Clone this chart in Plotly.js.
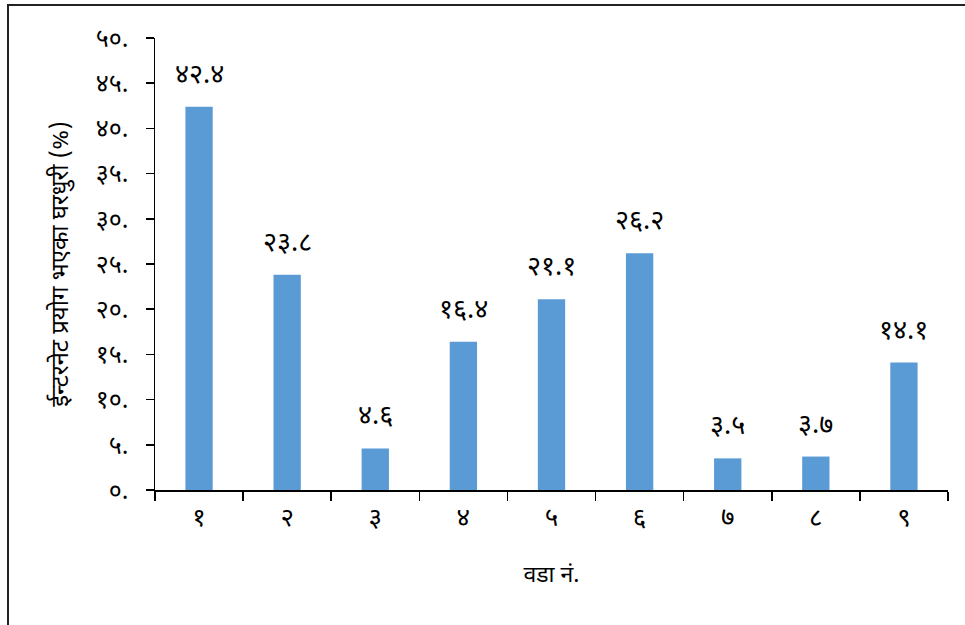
<!DOCTYPE html>
<html>
<head>
<meta charset="utf-8">
<script src="https://cdn.plot.ly/plotly-3.0.1.min.js"></script>
<style>
  html, body { margin: 0; padding: 0; background: #fff; }
  #wrap { position: relative; width: 965px; height: 625px; overflow: hidden; }
  #frame { position: absolute; left: 7px; top: 4px; width: 970px; height: 640px;
           border-top: 2px solid #222; border-left: 2px solid #222; pointer-events: none; z-index: 5; }
  #chart { position: absolute; left: 0; top: 0; width: 965px; height: 625px; }
</style>
</head>
<body>
<div id="wrap">
  <div id="chart"></div>
  <div id="frame"></div>
</div>
<script>
// Data
var wards = ["१", "२", "३", "४", "५", "६", "७", "८", "९"];
var values = [42.4, 23.8, 4.6, 16.4, 21.1, 26.2, 3.5, 3.7, 14.1];
var yTickValues = [0, 5, 10, 15, 20, 25, 30, 35, 40, 45, 50];
var xTitle = "वडा नं.";
var yTitle = "ईन्टरनेट प्रयोग भएका घरधुरी (%)";

var digits = ["०", "१", "२", "३", "४", "५", "६", "७", "८", "९"];
function toDev(s) {
  return String(s).replace(/[0-9]/g, function (d) { return digits[+d]; });
}
var yTickText = yTickValues.map(function (v) { return toDev(v) + "."; });
var labelText = values.map(function (v) { return toDev(v.toFixed(1)); });

var FONT = "'Noto Sans Devanagari', 'Lohit Devanagari', 'Noto Sans', 'DejaVu Sans', sans-serif";

var trace = {
  type: "bar",
  x: wards,
  y: values,
  width: 0.31,
  marker: { color: "#5B9BD5", line: { width: 0 } },
  hoverinfo: "skip"
};

var annotations = values.map(function (v, i) {
  return {
    x: wards[i], y: v, xref: "x", yref: "y",
    text: labelText[i], showarrow: false,
    yanchor: "bottom", yshift: 11,
    font: { family: FONT, size: 27, color: "#000" }
  };
});

var layout = {
  width: 965, height: 625,
  margin: { l: 155, r: 17, t: 38, b: 135 },
  paper_bgcolor: "#fff", plot_bgcolor: "#fff",
  showlegend: false,
  font: { family: FONT, color: "#000" },
  xaxis: {
    type: "category",
    showline: true, linecolor: "#000", linewidth: 1.5,
    ticks: "outside", tickson: "boundaries", ticklen: 9, tickwidth: 1.5, tickcolor: "#000",
    showgrid: false, zeroline: false,
    ticklabelstandoff: 3,
    tickfont: { family: FONT, size: 26, color: "#000" },
    title: { text: xTitle, font: { family: FONT, size: 23, color: "#000" }, standoff: 30 }
  },
  yaxis: {
    range: [0, 50],
    showline: true, linecolor: "#000", linewidth: 1.5,
    ticks: "outside", ticklen: 8, tickwidth: 1.5, tickcolor: "#000",
    tickvals: yTickValues, ticktext: yTickText,
    showgrid: false, zeroline: false,
    ticklabelstandoff: 12,
    tickfont: { family: FONT, size: 25, color: "#000" },
    title: { text: yTitle, font: { family: FONT, size: 24, color: "#000" }, standoff: 20 }
  },
  annotations: annotations
};

Plotly.newPlot("chart", [trace], layout, { staticPlot: true, displayModeBar: false });
</script>
</body>
</html>
